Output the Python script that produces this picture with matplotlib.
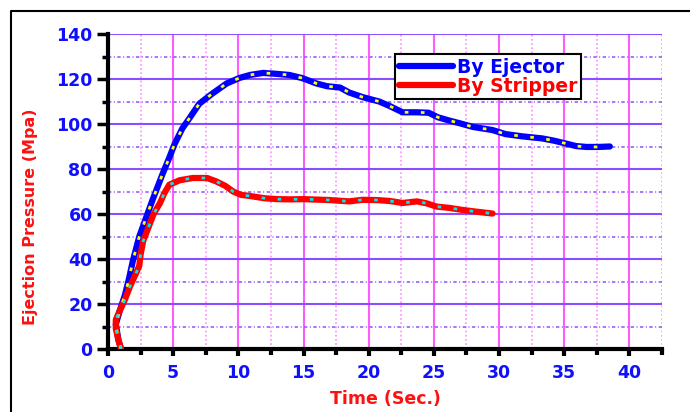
import matplotlib
matplotlib.use("Agg")
import matplotlib.pyplot as plt
from matplotlib.lines import Line2D
from matplotlib.ticker import MultipleLocator

# By Ejector curve (time in s, pressure in MPa)
ejector_t = [1.0, 0.8, 0.6, 0.9, 1.3, 1.6, 1.9, 2.4, 2.9, 3.4, 3.8, 4.2, 4.7, 5.1,
             5.7, 6.3, 7.0, 8.0, 9.1, 10.1, 10.9, 11.9, 12.9, 13.9, 14.9, 16.0,
             16.8, 17.8, 18.5, 19.5, 20.8, 21.6, 22.6, 23.7, 24.6, 25.3, 26.2,
             27.0, 28.0, 29.5, 30.5, 31.8, 33.3, 34.2, 35.0, 35.9, 36.7, 37.6, 38.5]
ejector_p = [0, 4, 11, 17, 24, 31, 39, 50, 58, 66, 72, 78, 85, 91,
             98, 103, 109, 113.5, 118, 120.5, 121.8, 122.7, 122.3, 121.8, 120.4, 118,
             116.8, 116.2, 114, 112, 110, 108, 105.2, 105.2, 105, 103, 101.5,
             100.3, 98.7, 97.3, 95.5, 94.5, 93.6, 92.6, 91.5, 90.2, 89.8, 89.8, 90]

# By Stripper curve
stripper_t = [1.0, 0.8, 0.6, 0.6, 0.9, 1.3, 1.7, 2.1, 2.4, 2.5, 2.7, 3.1, 3.5, 4.0,
              4.3, 4.7, 5.5, 6.5, 7.6, 8.3, 9.0, 9.6, 10.2, 10.9, 12.0, 13.0, 14.0,
              15.0, 16.0, 17.0, 18.5, 19.5, 20.6, 21.6, 22.6, 23.7, 24.4, 25.2,
              26.2, 27.2, 28.3, 29.5]
stripper_p = [0, 4, 9, 13, 17, 22, 28, 33, 37, 42, 48, 54, 60, 65,
              69, 73, 75, 76, 76, 74.5, 72.5, 70, 68.5, 68, 67, 66.6, 66.5,
              66.6, 66.4, 66.2, 65.6, 66.3, 66.2, 65.8, 64.9, 65.6, 64.8, 63.3,
              62.7, 61.8, 61, 60.2]

fig = plt.figure(figsize=(6.9, 4.12), dpi=100)
ax = fig.add_axes([108 / 690, 63 / 412, 554 / 690, 315 / 412])

# outer frame of the picture (only left and top edges are inside the image)
fx = 11 / 690
fy = 1 - 11 / 412
fig.add_artist(Line2D([fx, fx, 1.0], [0.0, fy, fy], transform=fig.transFigure,
                      color="black", lw=1.5))

ax.set_xlim(0, 42.5)
ax.set_ylim(0, 140)
ax.xaxis.set_major_locator(MultipleLocator(5))
ax.xaxis.set_minor_locator(MultipleLocator(2.5))
ax.yaxis.set_major_locator(MultipleLocator(20))
ax.yaxis.set_minor_locator(MultipleLocator(10))

ax.set_axisbelow(True)
ax.grid(axis="y", which="major", color="#8a4dff", lw=1.5, ls="-")
ax.grid(axis="y", which="minor", color="#9a5cff", lw=1.2, ls=(0, (2, 1.5, 0.6, 1.5)))
ax.grid(axis="x", which="major", color="#ff5cff", lw=1.5, ls="-")
ax.grid(axis="x", which="minor", color="#ff8cff", lw=1.2, ls=(0, (1, 1.5)))

ax.plot(ejector_t, ejector_p, color="#0000ff", lw=4.5, solid_capstyle="round",
        label="By Ejector", zorder=3)
ax.plot(ejector_t, ejector_p, color="#ffff00", lw=2, dashes=(1.3, 4.5), zorder=4)
ax.plot(stripper_t, stripper_p, color="#ff0000", lw=4.5, solid_capstyle="round",
        label="By Stripper", zorder=3)
ax.plot(stripper_t, stripper_p, color="#00e8e8", lw=2, dashes=(1.3, 4.5), zorder=4)

for s in ["top", "right"]:
    ax.spines[s].set_visible(False)
for s in ["left", "bottom"]:
    ax.spines[s].set_linewidth(3)
    ax.spines[s].set_color("black")

ax.tick_params(axis="y", which="major", length=8, width=2.5, pad=3,
               labelsize=12.5, labelcolor="#1010ff")
ax.tick_params(axis="y", which="minor", length=4, width=2.5)
ax.tick_params(axis="x", which="major", length=5, width=3, pad=6,
               labelsize=12.5, labelcolor="#1010ff")
ax.tick_params(axis="x", which="minor", length=4, width=3)
for lab in ax.get_xticklabels() + ax.get_yticklabels():
    lab.set_fontweight("bold")

ax.set_ylabel("Ejection Pressure (Mpa)", color="#ff1010", fontsize=11.5,
              fontweight="bold")
ax.yaxis.set_label_coords(-0.126, 0.42)
ax.set_xlabel("Time (Sec.)", color="#ff1010", fontsize=12.5, fontweight="bold")
ax.xaxis.set_label_coords(0.5, -0.13)

leg = ax.legend(loc="upper left", bbox_to_anchor=(0.518, 0.937), borderaxespad=0,
                fancybox=False, framealpha=1, edgecolor="black", handlelength=2.9,
                handletextpad=0.2, borderpad=0.2, labelspacing=0.0,
                prop={"weight": "bold", "size": 13.5})
leg.get_frame().set_linewidth(1.5)
for txt, c in zip(leg.get_texts(), ["#0000ff", "#ff0000"]):
    txt.set_color(c)

fig.savefig("out.png", dpi=100)
